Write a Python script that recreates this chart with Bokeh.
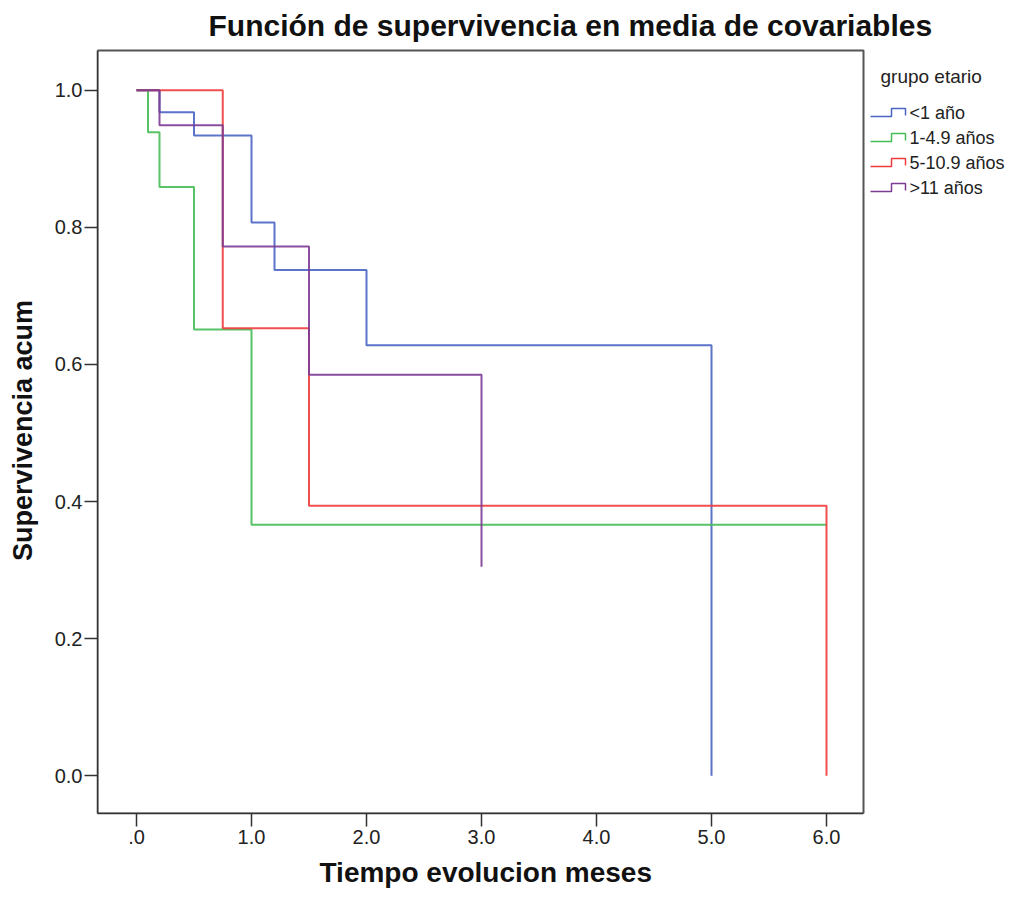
from bokeh.plotting import figure
from bokeh.models import (ColumnDataSource, Range1d, FixedTicker, Label, PolyAnnotation,
                          BoxAnnotation, Title)
from bokeh.embed import file_html
from bokeh.resources import INLINE

# ---- data ----
groups = ["<1 año", "1-4.9 años", "5-10.9 años", ">11 años"]
colors = ["#4a64c4", "#45bd55", "#f03c3c", "#7d3b93"]

t_lt1 = [0.0, 0.2, 0.5, 1.0, 1.2, 2.0, 5.0]
s_lt1 = [1.0, 0.968, 0.934, 0.807, 0.738, 0.628, 0.0]

t_1_4 = [0.0, 0.1, 0.2, 0.5, 1.0, 6.0]
s_1_4 = [1.0, 0.939, 0.859, 0.651, 0.366, 0.366]

t_5_10 = [0.0, 0.75, 1.5, 6.0]
s_5_10 = [1.0, 0.653, 0.394, 0.0]

t_gt11 = [0.0, 0.2, 0.75, 1.5, 3.0]
s_gt11 = [1.0, 0.949, 0.772, 0.585, 0.305]

x_ticks = [0, 1, 2, 3, 4, 5, 6]
x_tick_labels = [".0", "1.0", "2.0", "3.0", "4.0", "5.0", "6.0"]
y_ticks = [0.0, 0.2, 0.4, 0.6, 0.8, 1.0]
y_tick_labels = ["0.0", "0.2", "0.4", "0.6", "0.8", "1.0"]

series = [(t_lt1, s_lt1), (t_1_4, s_1_4), (t_5_10, s_5_10), (t_gt11, s_gt11)]

FONT = "Liberation Sans"

# ---- layout (canvas px) ----
W, H = 1021, 899
FL, FT, FB = 97, 44, 813          # frame: left, top, bottom
FR = W - 5                        # frame extends over the legend area
BOX_R, BOX_T = 863, 47            # visible plot box right / top
X0_PX, XU = 136, 115.0            # x=0 position, px per unit
Y0_PX, YU = 775, 688.0            # y=0 position, px per unit

def xd(px):
    return (px - X0_PX) / XU

def yd(py):
    return (Y0_PX - py) / YU

p = figure(width=W, height=H, output_backend="svg", toolbar_location=None,
           x_range=Range1d(xd(FL), xd(FR)), y_range=Range1d(yd(FB), yd(FT)),
           min_border_left=FL, min_border_right=W - FR,
           min_border_top=FT, min_border_bottom=H - FB,
           title="Función de supervivencia en media de covariables")

p.background_fill_color = "white"
p.border_fill_color = "white"
p.outline_line_color = None
p.grid.visible = False

# plot box (only around the data area, legend sits outside it)
p.add_layout(BoxAnnotation(left=xd(FL), right=xd(BOX_R), bottom=yd(FB), top=yd(BOX_T),
                           fill_alpha=0, line_color="#555555", line_alpha=1,
                           line_width=2, level="underlay"))

p.title.text_font = FONT
p.title.text_font_size = "30px"
p.title.text_font_style = "bold"
p.title.align = "left"
p.title.offset = 111
p.title.standoff = 12
p.title.text_color = "#111111"

for ax in (p.xaxis[0], p.yaxis[0]):
    ax.axis_line_color = "#333333"
    ax.axis_line_width = 1.5
    ax.major_tick_line_color = "#333333"
    ax.major_tick_line_width = 1.5
    ax.major_tick_out = 13
    ax.major_tick_in = 0
    ax.minor_tick_line_color = None
    ax.major_label_text_font = FONT
    ax.major_label_text_font_size = "20px"
    ax.major_label_text_color = "#222222"
    ax.axis_label_text_font = FONT
    ax.axis_label_text_font_size = "27px"
    ax.axis_label_text_font_style = "bold"
    ax.axis_label_text_color = "#111111"

p.xaxis.bounds = (xd(FL), xd(BOX_R))
p.yaxis.bounds = (yd(FB), yd(BOX_T))
p.xaxis.ticker = FixedTicker(ticks=x_ticks)
p.xaxis.major_label_overrides = {t: l for t, l in zip(x_ticks, x_tick_labels)}
p.yaxis.ticker = FixedTicker(ticks=y_ticks)
p.yaxis.major_label_overrides = {t: l for t, l in zip(y_ticks, y_tick_labels)}
p.xaxis.major_label_standoff = 3
p.yaxis.major_label_standoff = 2
p.yaxis.axis_label = "Supervivencia acum"
p.yaxis.axis_label_standoff = 14

# x-axis title centred under the plot box (not under the whole frame)
p.add_layout(Title(text="Tiempo evolucion meses", align="left", offset=222,
                   vertical_align="bottom", standoff=17,
                   text_font=FONT, text_font_size="28px", text_font_style="bold",
                   text_color="#111111"), "below")

for (t, s), c in zip(series, colors):
    src = ColumnDataSource(dict(t=t, s=s))
    p.step("t", "s", source=src, mode="after", line_color=c, line_width=2, line_alpha=0.9)

# ---- legend (drawn to the right of the plot box, screen units) ----
def sx(px):
    return px - FL

def sy(py):
    return FB - py

p.add_layout(Label(x=sx(880), y=sy(76), x_units="screen", y_units="screen",
                   text="grupo etario", text_font=FONT, text_font_size="19px",
                   text_color="#222222", text_baseline="middle", text_align="left"))

row_y = [112, 137, 162, 187]
for g, c, yc in zip(groups, colors, row_y):
    lo, hi = yc + 4, yc - 4
    pts_x = [870, 891, 891, 905, 905]
    pts_y = [lo, lo, hi, hi, lo - 1]
    xs = pts_x + pts_x[::-1][1:]
    ys = pts_y + pts_y[::-1][1:]
    p.add_layout(PolyAnnotation(xs=[sx(v) for v in xs], ys=[sy(v) for v in ys],
                                xs_units="screen", ys_units="screen",
                                fill_alpha=0, line_color=c, line_alpha=1, line_width=1.5))
    p.add_layout(Label(x=sx(909), y=sy(yc), x_units="screen", y_units="screen",
                       text=g, text_font=FONT, text_font_size="18px",
                       text_color="#222222", text_baseline="middle", text_align="left"))

open("out.html", "w").write(file_html(p, INLINE))
